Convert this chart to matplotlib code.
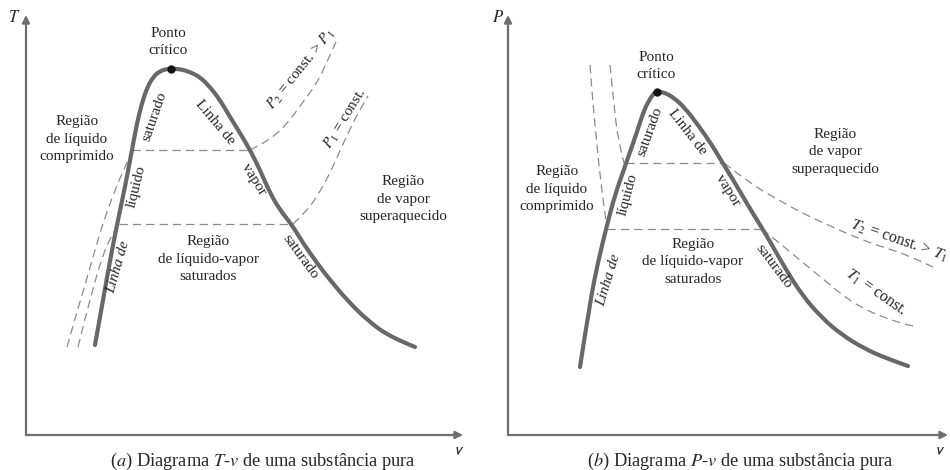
import matplotlib
matplotlib.use("Agg")
import matplotlib.pyplot as plt
from matplotlib.path import Path
from matplotlib.patches import PathPatch

plt.rcParams['font.family'] = ['Liberation Serif', 'DejaVu Serif']
plt.rcParams['mathtext.fontset'] = 'stix'
plt.rcParams['lines.scale_dashes'] = False

# ---------------- Panel (a): T-v diagram (schematic units) ----------------
a_liq_v = [69, 77, 86, 92, 99, 106, 111, 116, 121, 127, 134, 141, 145]
a_liq_T = [90, 135, 185, 215, 248, 285, 312, 332, 347, 358, 364, 366, 366]
a_vap_v = [154, 164, 174, 184, 194, 204, 214, 224, 234, 244, 254, 266, 277,
           291, 304, 321, 341, 364, 389]
a_vap_T = [366, 363, 358, 348, 335, 318, 302, 285, 265, 242, 225, 210, 192,
           172, 155, 135, 115, 98, 88]
a_crit_v, a_crit_T = [145], [366]

a_P2_liq_v = [41, 50, 59, 69, 77, 86, 94, 101, 106]
a_P2_liq_T = [88, 120, 150, 185, 212, 237, 257, 272, 285]
a_P2_mix_v = [106, 224]
a_P2_mix_T = [285, 285]
a_P2_vap_v = [224, 236, 251, 264, 277, 291, 301, 310]
a_P2_vap_T = [285, 291, 301, 315, 333, 352, 373, 393]

a_P1_liq_v = [52, 60, 68, 76, 84, 93]
a_P1_liq_T = [88, 120, 150, 177, 197, 211]
a_P1_mix_v = [93, 267]
a_P1_mix_T = [211, 211]
a_P1_vap_v = [267, 280, 292, 303, 313, 323, 332, 342]
a_P1_vap_T = [211, 223, 240, 260, 282, 304, 322, 339]

# ---------------- Panel (b): P-v diagram (schematic units) ----------------
b_liq_v = [72, 82, 90, 99, 107, 115, 122, 129, 135, 141, 147, 149]
b_liq_P = [68, 133, 173, 210, 240, 263, 283, 303, 322, 335, 343, 343]
b_vap_v = [155, 165, 177, 190, 204, 214, 224, 234, 244, 254, 264, 277, 294,
           314, 334, 357, 380, 400]
b_vap_P = [343, 338, 327, 310, 290, 273, 257, 240, 223, 207, 190, 167, 140,
           117, 100, 86, 76, 69]
b_crit_v, b_crit_P = [149], [343]

b_T2_liq_v = [102, 106, 110, 116]
b_T2_liq_P = [370, 330, 295, 272]
b_T2_mix_v = [118, 216]
b_T2_mix_P = [272, 272]
b_T2_vap_v = [216, 240, 267, 294, 320, 347, 374, 400, 425]
b_T2_vap_P = [272, 253, 237, 222, 210, 198, 188, 180, 168]

b_T1_liq_v = [82, 85, 89, 93, 99]
b_T1_liq_P = [370, 330, 290, 250, 206]
b_T1_mix_v = [99, 254]
b_T1_mix_P = [206, 206]
b_T1_vap_v = [254, 274, 294, 314, 334, 354, 377, 400, 409]
b_T1_vap_P = [206, 190, 173, 157, 140, 127, 117, 110, 108]

DOME = '#686868'
DASH = '#8a8a8a'
AXC = '#6e6e6e'
TXT = '#262626'

fig = plt.figure(figsize=(9.5, 4.7), dpi=100)
W, H = 950.0, 470.0
ax_a = fig.add_axes([26 / W, 35 / H, 437 / W, 420 / H])
ax_b = fig.add_axes([508 / W, 35 / H, 440 / W, 420 / H])
for ax, w in ((ax_a, 437), (ax_b, 440)):
    ax.set_xlim(0, w)
    ax.set_ylim(0, 420)
    ax.axis('off')
    for tip in ((0, 420), (w, 0)):
        ax.annotate('', xy=tip, xytext=(0, 0), xycoords='data',
                    arrowprops=dict(arrowstyle='-|>', color=AXC, lw=1.6,
                                    mutation_scale=11, shrinkA=0, shrinkB=0),
                    annotation_clip=False)


def smooth_path(xs, ys):
    """Quadratic-Bezier path through the read points (library Path)."""
    pts = list(zip(xs, ys))
    if len(pts) < 3:
        return Path(pts, [Path.MOVETO] + [Path.LINETO] * (len(pts) - 1))
    verts = [pts[0]]
    codes = [Path.MOVETO]
    for i in range(1, len(pts) - 1):
        mid = ((pts[i][0] + pts[i + 1][0]) / 2, (pts[i][1] + pts[i + 1][1]) / 2)
        if i == len(pts) - 2:
            mid = pts[-1]
        verts += [pts[i], mid]
        codes += [Path.CURVE3, Path.CURVE3]
    return Path(verts, codes)


def curve(ax, xs, ys, dashed=False):
    if dashed:
        kw = dict(edgecolor=DASH, lw=0.9, linestyle=(0, (6, 3.6)))
    else:
        kw = dict(edgecolor=DOME, lw=3.0, capstyle='round', joinstyle='round')
    ax.add_patch(PathPatch(smooth_path(xs, ys), fill=False, clip_on=False, **kw))


def label(ax, x, y, s, rot=0, size=11, **kw):
    ax.text(x, y, s, rotation=rot, rotation_mode='anchor', ha='center',
            va='center', fontsize=size, color=TXT, linespacing=1.45,
            clip_on=False, **kw)

# ---- draw panel a ----
for xs, ys in ((a_P2_liq_v, a_P2_liq_T), (a_P2_mix_v, a_P2_mix_T),
               (a_P2_vap_v, a_P2_vap_T), (a_P1_liq_v, a_P1_liq_T),
               (a_P1_mix_v, a_P1_mix_T), (a_P1_vap_v, a_P1_vap_T)):
    curve(ax_a, xs, ys, dashed=True)
curve(ax_a, a_liq_v + a_vap_v, a_liq_T + a_vap_T)
ax_a.plot(a_crit_v, a_crit_T, 'o', color='#111111', ms=5, zorder=5)

label(ax_a, 142, 393, 'Ponto\ncrítico')
label(ax_a, 51, 296, 'Região\nde líquido\ncomprimido')
label(ax_a, 128, 318, 'saturado', rot=71)
label(ax_a, 111, 248, 'líquido', rot=76)
label(ax_a, 92, 168, 'Linha de', rot=74, style='italic')
label(ax_a, 189, 313, 'Linha de', rot=-50)
label(ax_a, 228, 256, 'vapor', rot=-58)
label(ax_a, 274, 178, 'saturado', rot=-54)
label(ax_a, 275, 366, r'$P_2$ = const. > $P_1$', rot=51)
label(ax_a, 319, 316, r'$P_1$ = const.', rot=58)
label(ax_a, 377, 236, 'Região\nde vapor\nsuperaquecido')
label(ax_a, 182, 176, 'Região\nde líquido-vapor\nsaturados')
label(ax_a, -12, 417, r'$T$', size=12)
label(ax_a, 433, -15, r'$\mathsf{v}$', size=12, family='DejaVu Sans')
label(ax_a, 237, -26, r'($a$) Diagrama $T$-$v$ de uma substância pura',
      size=13.2)

# ---- draw panel b ----
for xs, ys in ((b_T2_liq_v, b_T2_liq_P), (b_T2_mix_v, b_T2_mix_P),
               (b_T2_vap_v, b_T2_vap_P), (b_T1_liq_v, b_T1_liq_P),
               (b_T1_mix_v, b_T1_mix_P), (b_T1_vap_v, b_T1_vap_P)):
    curve(ax_b, xs, ys, dashed=True)
curve(ax_b, b_liq_v + b_vap_v, b_liq_P + b_vap_P)
ax_b.plot(b_crit_v, b_crit_P, 'o', color='#111111', ms=5, zorder=5)

label(ax_b, 148, 369, 'Ponto\ncrítico')
label(ax_b, 49, 246, 'Região\nde líquido\ncomprimido')
label(ax_b, 142, 303, 'saturado', rot=70)
label(ax_b, 120, 240, 'líquido', rot=75)
label(ax_b, 101, 155, 'Linha de', rot=73, style='italic')
label(ax_b, 179, 303, 'Linha de', rot=-52)
label(ax_b, 220, 245, 'vapor', rot=-58)
label(ax_b, 266, 169, 'saturado', rot=-53)
label(ax_b, 327, 283, 'Região\nde vapor\nsuperaquecido')
label(ax_b, 185, 173, 'Região\nde líquido-vapor\nsaturados')
label(ax_b, 391, 194, r'$T_2$ = const. > $T_1$', rot=-19, size=11.5)
label(ax_b, 368, 142, r'$T_1$ = const.', rot=-35, size=11.5)
label(ax_b, -10, 417, r'$P$', size=12)
label(ax_b, 432, -15, r'$\mathsf{v}$', size=12, family='DejaVu Sans')
label(ax_b, 232, -26, r'($b$) Diagrama $P$-$v$ de uma substância pura',
      size=13.2)

fig.savefig('out.png', dpi=100, facecolor='white')
